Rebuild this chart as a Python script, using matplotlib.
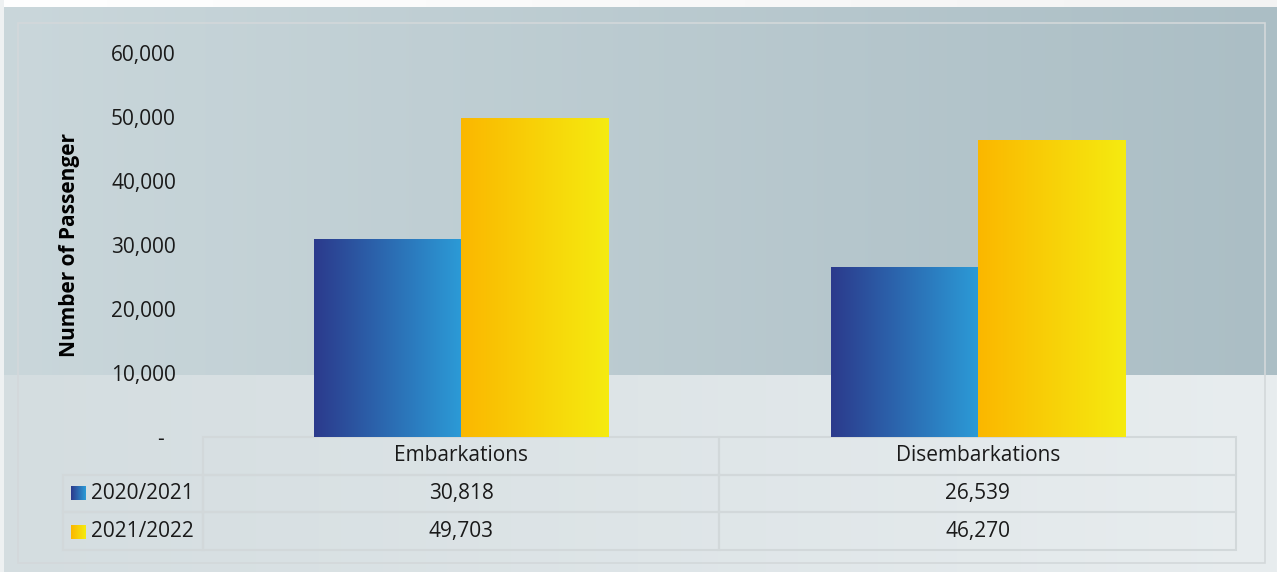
import numpy as np
import matplotlib.pyplot as plt
from matplotlib.colors import to_rgb
from matplotlib.patches import Rectangle
from matplotlib.ticker import FuncFormatter

plt.rcParams['font.family'] = ['Open Sans', 'DejaVu Sans']

categories = ['Embarkations', 'Disembarkations']
seasons = ['2020/2021', '2021/2022']
pax_2021 = [30818, 26539]
pax_2122 = [49703, 46270]
yticks = [0, 10000, 20000, 30000, 40000, 50000, 60000]

blue = ('#2b3a8c', '#2c9bd7')
yellow = ('#fbb700', '#f5eb10')

W, H = 1277, 572
fig = plt.figure(figsize=(W / 100, H / 100), dpi=100)


def ramp(c0, c1, n):
    a, b = np.array(to_rgb(c0)), np.array(to_rgb(c1))
    t = np.linspace(0, 1, n)[:, None]
    return a + (b - a) * t


# background panel: darker band behind the plot, lighter strip at the bottom
bg = np.ones((H, W, 3))
bg[:375] = ramp('#cad7db', '#abbec5', W)
bg[375:] = ramp('#d4dde0', '#e8edef', W)
bg[:7] = ramp('#ffffff', '#f3f3f3', W)
bg[:, :4] = to_rgb('#eef1f2')
bgax = fig.add_axes([0, 0, 1, 1], zorder=-10)
bgax.imshow(bg, aspect='auto', interpolation='nearest')
bgax.axis('off')

fig.patches.append(Rectangle((18 / W, (H - 563) / H), (1265 - 18) / W, (563 - 23) / H,
                             transform=fig.transFigure, fill=False,
                             ec='#d3d8da', lw=1.2))

ax = fig.add_axes([203 / W, (H - 437) / H, 1033 / W, 384 / H])
ax.set_facecolor('none')

x = np.arange(len(categories))
bw = 0.285
b1 = ax.bar(x - bw / 2, pax_2021, bw, color='none')
b2 = ax.bar(x + bw / 2, pax_2122, bw, color='none')
for bars, cols in [(b1, blue), (b2, yellow)]:
    for p in bars:
        grad = ramp(cols[0], cols[1], 256)[None, :, :]
        ax.imshow(grad, extent=[p.get_x(), p.get_x() + p.get_width(), 0, p.get_height()],
                  aspect='auto', zorder=2)

ax.set_xlim(-0.5, 1.5)
ax.set_ylim(0, 60000)
ax.set_xticks([])
ax.set_yticks(yticks)
ax.yaxis.set_major_formatter(FuncFormatter(lambda v, _: '-  ' if v == 0 else f'{int(v):,}'))
ax.tick_params(axis='y', length=0, pad=19.5, labelsize=15, labelcolor='#1a1a1a')
for s in ax.spines.values():
    s.set_visible(False)

ax.set_ylabel('Number of Passenger', fontsize=15, fontweight='bold')
ax.yaxis.set_label_coords(-(203 - 80) / 1033, 0.5)

# data table under the bars
rows = [[seasons[0]] + [f'{v:,}' for v in pax_2021],
        [seasons[1]] + [f'{v:,}' for v in pax_2122]]
tbl = ax.table(cellText=rows, colLabels=[''] + categories,
               colWidths=[140, 516.5, 516.5], cellLoc='center',
               bbox=[-140 / 1033, -113 / 384, 1173 / 1033, 113 / 384])
tbl.auto_set_font_size(False)
tbl.set_fontsize(15)
for (r, c), cell in tbl.get_celld().items():
    cell.set_facecolor('none')
    cell.set_edgecolor('#d2d8da')
    cell.set_linewidth(1.5)
    cell.get_text().set_color('#1a1a1a')
    if r == 0 and c == 0:
        cell.visible_edges = ''
    elif c == 0:
        cell.get_text().set_ha('right')
        cell.PAD = 0.064

# legend keys in the row label cells
for y0, cols in [(486, blue), (525, yellow)]:
    kax = fig.add_axes([71 / W, (H - y0 - 14) / H, 15 / W, 14 / H])
    kax.imshow(ramp(cols[0], cols[1], 64)[None, :, :], aspect='auto')
    kax.axis('off')

plt.savefig('out.png', dpi=100)
